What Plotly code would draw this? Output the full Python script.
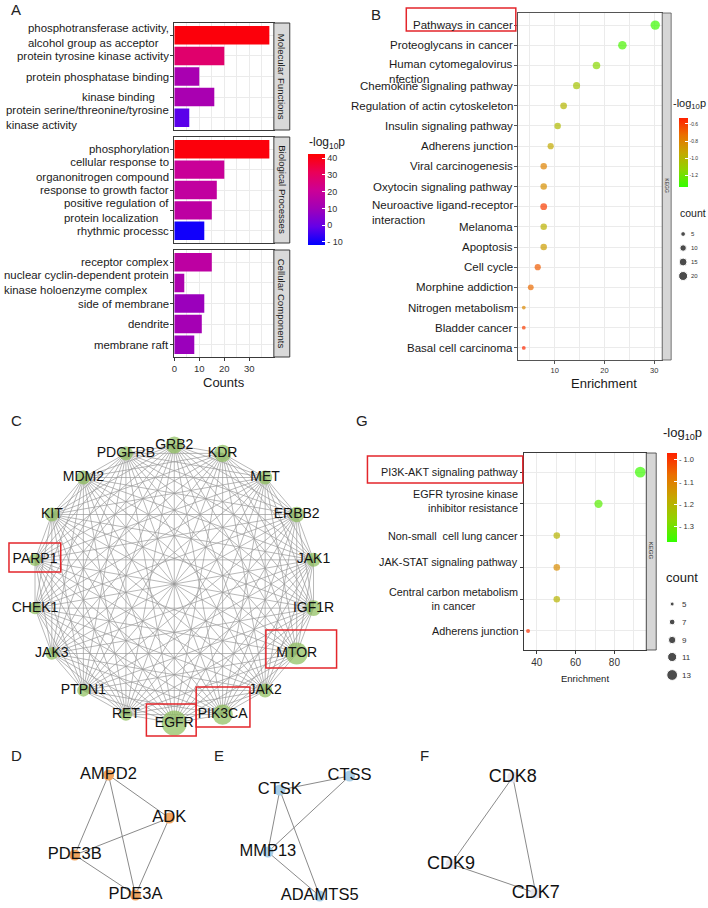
import numpy as np
import plotly.graph_objects as go

W, H = 708, 908
SANS = "Liberation Sans, Arial, sans-serif"
INK = "#1a1a1a"
GRID = "#ebebeb"
FRAME = "#3a3a3a"
BOX_RED = "#e3262b"

# ---- A: GO terms (counts and -log10 p)
mf_terms = ["phosphotransferase activity,<br>alcohol group as acceptor",
            "protein tyrosine kinase activity",
            "protein phosphatase binding",
            "kinase binding",
            "protein serine/threonine/tyrosine<br>kinase activity"]
mf_counts = [38, 20, 10, 16, 6]
mf_logp = [41, 28, 12, 12, -2]

bp_terms = ["phosphorylation",
            "cellular response to<br>organonitrogen compound",
            "response to growth factor",
            "positive regulation of<br>protein localization",
            "rhythmic processc"]
bp_counts = [38, 20, 17, 15, 12]
bp_logp = [41, 20, 18, 17, -10]

cc_terms = ["receptor complex",
            "nuclear cyclin-dependent protein<br>kinase holoenzyme complex",
            "side of membrane",
            "dendrite",
            "membrane raft"]
cc_counts = [15, 4, 12, 11, 8]
cc_logp = [17, 13, 9, 11, 9]

# ---- B: KEGG pathways
kegg_terms = ["Pathways in cancer", "Proteoglycans in cancer",
              "Human cytomegalovirus<br>nfection", "Chemokine signaling pathway",
              "Regulation of actin cytoskeleton", "Insulin signaling pathway",
              "Adherens junction", "Viral carcinogenesis",
              "Oxytocin signaling pathway", "Neuroactive ligand-receptor<br>interaction",
              "Melanoma", "Apoptosis", "Cell cycle", "Morphine addiction",
              "Nitrogen metabolism", "Bladder cancer", "Basal cell carcinoma"]
kegg_enrich = [30.2, 23.6, 18.4, 14.4, 11.8, 10.6, 9.2, 7.8, 7.8, 7.8, 7.8, 7.8, 6.6, 5.2, 3.8, 3.8, 3.8]
kegg_count = [22, 18, 14, 12, 11, 10, 9, 10, 10, 11, 10, 10, 9, 8, 3, 3, 3]
kegg_logp = [-1.32, -1.29, -1.15, -1.06, -1.0, -1.02, -0.95, -0.8, -0.85, -0.6,
             -0.98, -0.9, -0.68, -0.72, -0.82, -0.6, -0.55]
kegg_count_keys = [5, 10, 15, 20]

# ---- G: KEGG pathways of the hub genes
g_terms = ["PI3K-AKT signaling pathway", "EGFR tyrosine kinase<br>inhibitor resistance",
           "Non-small\u00a0 cell lung cancer", "JAK-STAT signaling pathway",
           "Central carbon metabolism<br>in cancer", "Adherens junction"]
g_enrich = [93.3, 71.8, 50.3, 50.3, 50.3, 35.5]
g_count = [13, 10, 8, 8, 8, 5]
g_logp = [-1.36, -1.33, -1.2, -1.12, -1.2, -0.99]
g_count_keys = [5, 7, 9, 11, 13]

# ---- C: PPI network (circular layout, clockwise from the top)
ppi_genes = ["GRB2", "KDR", "MET", "ERBB2", "JAK1", "IGF1R", "MTOR", "JAK2", "PIK3CA",
             "EGFR", "RET", "PTPN1", "JAK3", "CHEK1", "PARP1", "KIT", "MDM2", "PDGFRB"]
ppi_score = [12, 12, 10, 11, 10, 11, 15, 10, 14, 17, 9, 9, 9, 9, 9, 10, 10, 10]

# ---- D/E/F: sub-networks (layout coordinates from the network tool)
d_genes = ["AMPD2", "ADK", "PDE3B", "PDE3A"]
d_lx = [106, 167, 72, 133]
d_ly = [775, 818, 855, 895]
d_edges = [("AMPD2", "ADK"), ("AMPD2", "PDE3B"), ("AMPD2", "PDE3A"),
           ("ADK", "PDE3B"), ("ADK", "PDE3A"), ("PDE3B", "PDE3A")]

e_genes = ["CTSS", "CTSK", "MMP13", "ADAMTS5"]
e_lx = [348, 278, 266, 318]
e_ly = [776, 790, 852, 896]
e_edges = [("CTSK", "CTSS"), ("CTSS", "MMP13"), ("CTSK", "MMP13"),
           ("CTSK", "ADAMTS5"), ("MMP13", "ADAMTS5")]

f_genes = ["CDK8", "CDK9", "CDK7"]
f_lx = [512, 450, 535]
f_ly = [777, 864, 893]
f_edges = [("CDK8", "CDK9"), ("CDK8", "CDK7"), ("CDK9", "CDK7")]

A_SCALE = [[0, "#0000ff"], [0.2, "#6400e8"], [0.4, "#a000b8"], [0.6, "#cc0096"],
           [0.8, "#ea0058"], [1, "#ff0000"]]
GR_SCALE = [[0, "#33ff00"], [0.25, "#8fd400"], [0.5, "#c6a600"], [0.75, "#ea7000"],
            [1, "#ff2000"]]


def px(x):
    return x / W


def py(y):
    return 1 - y / H


def size_b(c):
    return 1.9 * np.sqrt(np.asarray(c, dtype=float)) + 0.5


def size_g(c):
    return 4 + (np.asarray(c, dtype=float) - 5) * 0.85


fig = go.Figure()
annotations = []
shapes = []
layout = {}


def text(t, x, y, size, color=INK, xanchor="center", yanchor="middle", **kw):
    annotations.append(dict(text=t, x=x, y=y, showarrow=False, xanchor=xanchor,
                            yanchor=yanchor, font=dict(family=SANS, size=size, color=color),
                            **kw))


def ptext(t, x, y, size, **kw):
    # text placed in figure pixels
    text(t, px(x), py(y), size, xref="paper", yref="paper", **kw)


# panel letters
for letter, lx, ly in [("A", 6, 10), ("B", 368, 15), ("C", 6, 420), ("G", 352, 420),
                       ("D", 6, 755), ("E", 210, 755), ("F", 417, 755)]:
    ptext(letter, lx, ly, 15, color="#222", xanchor="left")

# ---------------- Panel A ----------------
facets = [("Molecular Functions", mf_terms, mf_counts, mf_logp, (23, 130)),
          ("Biological Processes", bp_terms, bp_counts, bp_logp, (137, 243)),
          ("Cellular Components", cc_terms, cc_counts, cc_logp, (250, 357))]
a_align = {"cellular response to<br>organonitrogen compound": "right"}
a_shift = {"kinase binding": -14}

for i, (strip, terms, counts, logp, (top, bot)) in enumerate(facets, start=1):
    sfx = "" if i == 1 else str(i)
    fig.add_trace(go.Bar(x=counts, y=terms, orientation="h", width=0.9,
                         marker=dict(color=logp, coloraxis="coloraxis", line=dict(width=0)),
                         xaxis="x" + sfx, yaxis="y" + sfx, showlegend=False))
    layout["xaxis" + sfx] = dict(
        domain=[px(172), px(272)], anchor="y" + sfx, range=[0, 39.8],
        tick0=0, dtick=10, showgrid=True, gridcolor=GRID, gridwidth=1,
        minor=dict(tick0=0, dtick=5, showgrid=True, gridcolor=GRID, gridwidth=0.5),
        showline=True, mirror=True, linecolor=FRAME, linewidth=1, zeroline=False,
        showticklabels=(i == 3), ticks="outside" if i == 3 else "", ticklen=3,
        tickcolor=FRAME, tickfont=dict(family=SANS, size=9.5, color="#333"))
    layout["yaxis" + sfx] = dict(
        domain=[py(bot), py(top)], anchor="x" + sfx, type="category",
        categoryorder="array", categoryarray=terms, range=[len(terms) - 0.4, -0.6],
        showgrid=True, gridcolor=GRID, showline=True, mirror=True, linecolor=FRAME,
        linewidth=1, ticks="outside", ticklen=3, tickcolor=FRAME, showticklabels=False)
    for t in terms:
        text(t, px(169), t, 11.4, xref="paper", yref="y" + sfx, xanchor="right",
             align=a_align.get(t, "left"), xshift=a_shift.get(t, 0))
    shapes.append(dict(type="rect", xref="paper", yref="paper", x0=px(272), x1=px(288),
                       y0=py(bot), y1=py(top), fillcolor="#d9d9d9",
                       line=dict(color=FRAME, width=1), layer="above"))
    ptext(strip, 280, (top + bot) / 2, 9.6, textangle=90)

ptext("Counts", 222, 382, 13)

# ---------------- Panel B ----------------
fig.add_trace(go.Scatter(
    x=kegg_enrich, y=kegg_terms, mode="markers", xaxis="x4", yaxis="y4", showlegend=False,
    marker=dict(size=size_b(kegg_count), color=kegg_logp, coloraxis="coloraxis2",
                line=dict(width=0))))
layout["xaxis4"] = dict(
    domain=[px(517), px(662)], anchor="y4", range=[2.6, 31.6], tick0=0, dtick=10,
    showgrid=True, gridcolor=GRID, minor=dict(tick0=0, dtick=5, showgrid=True,
                                              gridcolor=GRID, gridwidth=0.5),
    showline=True, mirror=True, linecolor="#555", linewidth=1, zeroline=False,
    ticks="outside", ticklen=3, tickcolor="#555",
    tickfont=dict(family=SANS, size=7.5, color="#333"))
layout["yaxis4"] = dict(
    domain=[py(360), py(13)], anchor="x4", type="category", categoryorder="array",
    categoryarray=kegg_terms, range=[len(kegg_terms) - 0.4, -0.6], showgrid=True,
    gridcolor=GRID, showline=True, mirror=True, linecolor="#555", linewidth=1,
    ticks="outside", ticklen=3, tickcolor="#555", showticklabels=False)
for t in kegg_terms:
    multi = "<br>" in t
    text(t, px(514), t, 11.5, xref="paper", yref="y4", xanchor="right",
         align="left", yshift=-6 if multi else 0)
shapes.append(dict(type="rect", xref="paper", yref="paper", x0=px(662), x1=px(671),
                   y0=py(360), y1=py(13), fillcolor="#d6d6d6",
                   line=dict(color="#555", width=0.8), layer="above"))
ptext("KEGG", 666.5, 186, 5, color="#333", textangle=90)
ptext("Enrichment", 604, 384, 13)

# ---------------- Panel G ----------------
fig.add_trace(go.Scatter(
    x=g_enrich, y=g_terms, mode="markers", xaxis="x5", yaxis="y5", showlegend=False,
    marker=dict(size=size_g(g_count), color=g_logp, coloraxis="coloraxis3",
                line=dict(width=0))))
layout["xaxis5"] = dict(
    domain=[px(523), px(646)], anchor="y5", range=[33.3, 96.4], tick0=0, dtick=20,
    showgrid=True, gridcolor=GRID, minor=dict(tick0=0, dtick=10, showgrid=True,
                                              gridcolor=GRID, gridwidth=0.5),
    showline=True, mirror=True, linecolor=FRAME, linewidth=1, zeroline=False,
    ticks="outside", ticklen=3, tickcolor=FRAME,
    tickfont=dict(family=SANS, size=10, color="#333"))
layout["yaxis5"] = dict(
    domain=[py(650), py(453)], anchor="x5", type="category", categoryorder="array",
    categoryarray=g_terms, range=[len(g_terms) - 0.4, -0.6], showgrid=True,
    gridcolor=GRID, showline=True, mirror=True, linecolor=FRAME, linewidth=1,
    ticks="outside", ticklen=3, tickcolor=FRAME, showticklabels=False)
g_align = {"EGFR tyrosine kinase<br>inhibitor resistance": "right",
           "Central carbon metabolism<br>in cancer": "center"}
g_shift = {"JAK-STAT signaling pathway": 5, "EGFR tyrosine kinase<br>inhibitor resistance": 3}
for t in g_terms:
    text(t, px(519), t, 10.8, xref="paper", yref="y5", xanchor="right",
         align=g_align.get(t, "right"), yshift=g_shift.get(t, 0))
shapes.append(dict(type="rect", xref="paper", yref="paper", x0=px(646), x1=px(656),
                   y0=py(650), y1=py(453), fillcolor="#d6d6d6",
                   line=dict(color=FRAME, width=0.8), layer="above"))
ptext("KEGG", 651, 551, 6, color="#333", textangle=90)
ptext("Enrichment", 584, 678, 9.5)

# ---------------- Panel C: PPI network ----------------
n = len(ppi_genes)
theta = np.deg2rad(90 - 360 / n * np.arange(n))
nx, ny = np.cos(theta), np.sin(theta)
ex, ey = [], []
for i in range(n):
    for j in range(i + 1, n):
        ex += [nx[i], nx[j], None]
        ey += [ny[i], ny[j], None]
fig.add_trace(go.Scatter(x=ex, y=ey, mode="lines", xaxis="x6", yaxis="y6",
                         line=dict(color="#9a9a9a", width=0.7), hoverinfo="skip",
                         showlegend=False, cliponaxis=False))
fig.add_trace(go.Scatter(x=nx, y=ny, mode="markers+text", text=ppi_genes,
                         textposition="middle center", xaxis="x6", yaxis="y6",
                         marker=dict(size=1.6 * np.array(ppi_score) - 2, color="#8cbd5a",
                                     line=dict(width=0)),
                         textfont=dict(family=SANS, size=14, color="#111"),
                         showlegend=False, cliponaxis=False))
layout["xaxis6"] = dict(domain=[px(30), px(314)], anchor="y6", range=[-1, 1], visible=False)
layout["yaxis6"] = dict(domain=[py(723), py(445)], anchor="x6", range=[-1, 1], visible=False)

# ---------------- Panels D, E, F ----------------
for genes, lx, ly, edges, ncol, fsize in [
        (d_genes, d_lx, d_ly, d_edges, "#f2a45e", 16.5),
        (e_genes, e_lx, e_ly, e_edges, "#a9cde6", 16.5),
        (f_genes, f_lx, f_ly, f_edges, "#e4e4ee", 18)]:
    pos = {g: (x, y) for g, x, y in zip(genes, lx, ly)}
    sx, sy = [], []
    for a, b in edges:
        sx += [pos[a][0], pos[b][0], None]
        sy += [pos[a][1], pos[b][1], None]
    fig.add_trace(go.Scatter(x=sx, y=sy, mode="lines", xaxis="x7", yaxis="y7",
                             line=dict(color="#8a8a8a", width=1), hoverinfo="skip",
                             showlegend=False, cliponaxis=False))
    fig.add_trace(go.Scatter(x=lx, y=ly, mode="markers+text", text=genes,
                             textposition="middle center", xaxis="x7", yaxis="y7",
                             marker=dict(size=11, color=ncol, line=dict(width=0)),
                             textfont=dict(family=SANS, size=fsize, color="#111"),
                             showlegend=False, cliponaxis=False))
layout["xaxis7"] = dict(domain=[0, 1], anchor="y7", range=[0, W], visible=False)
layout["yaxis7"] = dict(domain=[py(908), py(740)], anchor="x7", range=[908, 740],
                        visible=False)

# ---------------- size legends (count) ----------------
b_key_y = [234, 248, 262, 276]
g_key_y = [604, 622, 640, 657, 675]
fig.add_trace(go.Scatter(x=[683] * 4, y=b_key_y, mode="markers", xaxis="x8", yaxis="y8",
                         marker=dict(size=size_b(kegg_count_keys), color="black"),
                         showlegend=False, cliponaxis=False))
fig.add_trace(go.Scatter(x=[672] * 5, y=g_key_y, mode="markers", xaxis="x8", yaxis="y8",
                         marker=dict(size=size_g(g_count_keys), color="black"),
                         showlegend=False, cliponaxis=False))
layout["xaxis8"] = dict(domain=[0, 1], anchor="y8", range=[0, W], visible=False)
layout["yaxis8"] = dict(domain=[0, 1], anchor="x8", range=[H, 0], visible=False)
for k, yk in zip(kegg_count_keys, b_key_y):
    ptext(str(k), 689, yk, 6, color="#333", xanchor="left")
for k, yk in zip(g_count_keys, g_key_y):
    ptext(str(k), 680, yk, 8, color="#333", xanchor="left")
ptext("count", 678, 213, 10.5, xanchor="left")
ptext("count", 664, 577, 13, xanchor="left")

# colour-bar titles
ptext("-log<sub>10</sub>p", 305, 143, 12, xanchor="left")
ptext("-log<sub>10</sub>p", 671, 104, 11, xanchor="left")
ptext("-log<sub>10</sub>p", 661, 433, 13, xanchor="left")

# ---------------- red highlight boxes ----------------
for x0, y0, x1, y1 in [(405, 8, 515, 31), (6, 543, 58, 572), (264, 630, 335, 668),
                       (144, 704, 194, 736), (194, 687, 248, 727), (366, 456, 522, 483)]:
    shapes.append(dict(type="rect", xref="paper", yref="paper", x0=px(x0), x1=px(x1),
                       y0=py(y1), y1=py(y0), line=dict(color=BOX_RED, width=1.5),
                       layer="above"))


def cbar(x, yc, length, thick, vals, labels, tsize):
    return dict(x=px(x), xanchor="left", y=py(yc), yanchor="middle", len=length,
                lenmode="pixels", thickness=thick, thicknessmode="pixels", xpad=0, ypad=0,
                outlinewidth=0, ticks="inside", tickcolor="white", ticklen=3,
                tickvals=vals, ticktext=labels,
                tickfont=dict(family=SANS, size=tsize, color="#333"))


fig.update_layout(
    width=W, height=H, margin=dict(l=0, r=0, t=0, b=0),
    paper_bgcolor="white", plot_bgcolor="rgba(0,0,0,0)", showlegend=False,
    coloraxis=dict(colorscale=A_SCALE, cmin=-11.8, cmax=42.4,
                   colorbar=cbar(306, 199.5, 91, 17, [40, 30, 20, 10, 0, -10],
                                 ["40", "30", "20", "10", "0", "- 10"], 9)),
    coloraxis2=dict(colorscale=GR_SCALE, cmin=-1.34, cmax=-0.53,
                    colorbar=cbar(679, 152.5, 69, 9, [-0.6, -0.8, -1.0, -1.2],
                                  ["-0.6", "-0.8", "-1.0", "-1.2"], 5)),
    coloraxis3=dict(colorscale=GR_SCALE, cmin=-1.37, cmax=-0.97,
                    colorbar=cbar(667, 497.5, 89, 10, [-1.0, -1.1, -1.2, -1.3],
                                  ["- 1.0", "- 1.1", "- 1.2", "- 1.3"], 7.5)),
    annotations=annotations, shapes=shapes, **layout)

# the page's default 8px body margin would push the 708x908 figure out of the window
fig.write_html("out.html", config={"displayModeBar": False},
               post_script="document.body.style.margin='0';")
